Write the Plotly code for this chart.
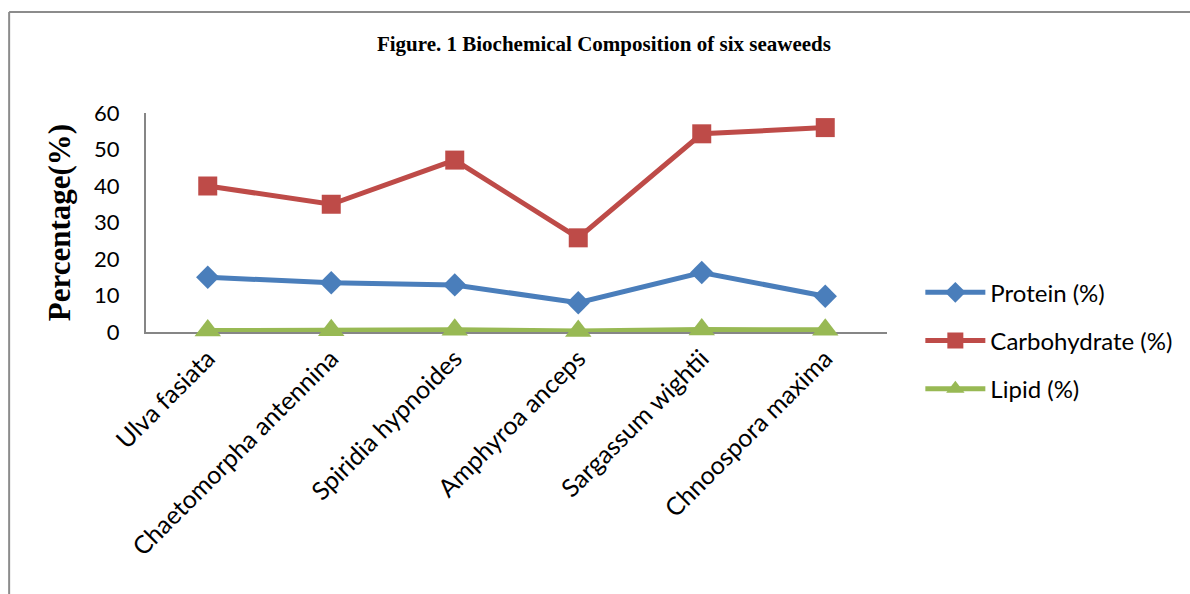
import plotly.graph_objects as go

# Seaweed species on the category axis
species = [
    "Ulva fasiata",
    "Chaetomorpha antennina",
    "Spiridia hypnoides",
    "Amphyroa anceps",
    "Sargassum wightii",
    "Chnoospora maxima",
]

# Composition values (%)
protein = [15.0, 13.5, 12.9, 8.0, 16.3, 9.8]
carbohydrate = [40.0, 35.0, 47.1, 25.8, 54.3, 56.0]
lipid = [0.4, 0.5, 0.6, 0.3, 0.7, 0.6]

y_ticks = [0, 10, 20, 30, 40, 50, 60]

sans = "Lato, 'Open Sans', sans-serif"
serif = "'Liberation Serif', 'Times New Roman', serif"

series = [
    ("Protein (%)", protein, "#4A7EBB", "diamond", 18),
    ("Carbohydrate (%)", carbohydrate, "#BE4B48", "square", 19),
    ("Lipid (%)", lipid, "#98B954", "triangle-up", 23),
]

fig = go.Figure()
for name, values, color, symbol, size in series:
    fig.add_trace(go.Scatter(
        x=species, y=values, name=name, mode="lines+markers",
        legendgroup=name, cliponaxis=False,
        line=dict(color=color, width=5),
        marker=dict(symbol=symbol, size=size, color=color),
    ))

fig.update_layout(
    width=1190, height=594,
    margin=dict(l=146, r=297, t=113, b=262),
    paper_bgcolor="white", plot_bgcolor="white",
    title=dict(
        text="<b>Figure. 1 Biochemical Composition of six seaweeds</b>",
        x=0.5075, xanchor="center", y=0.926, yanchor="middle",
        font=dict(family=serif, size=21, color="black"),
    ),
    xaxis=dict(
        type="category", range=[-0.5, 5.5], layer="below traces",
        tickangle=-45, showline=True, linecolor="#868686", linewidth=2,
        showgrid=False, ticks="", zeroline=False,
        tickfont=dict(family=sans, size=25, color="black"),
    ),
    yaxis=dict(
        range=[0, 60], tickvals=y_ticks, showline=True, layer="below traces",
        linecolor="#868686", linewidth=2, showgrid=False, ticks="",
        zeroline=False, ticklabelstandoff=20,
        tickfont=dict(family=sans, size=22, color="black"),
        title=dict(text="<b>Percentage(%)</b>",
                   font=dict(family=serif, size=31, color="black"),
                   standoff=14),
    ),
    legend=dict(
        x=1.045, y=-0.04, xanchor="left", yanchor="middle",
        font=dict(family=sans, size=24, color="black"),
        tracegroupgap=14, itemwidth=60, bgcolor="rgba(0,0,0,0)",
    ),
    showlegend=True,
    shapes=[
        dict(type="line", xref="paper", yref="paper", layer="below",
             x0=-0.1847, x1=1.5, y0=1.461, y1=1.461,
             line=dict(color="#8C8C8C", width=2)),
        dict(type="line", xref="paper", yref="paper", layer="below",
             x0=-0.1847, x1=-0.1847, y0=1.461, y1=-1.5,
             line=dict(color="#8C8C8C", width=2)),
    ],
)

fig.write_html("out.html", config={"displayModeBar": False})
